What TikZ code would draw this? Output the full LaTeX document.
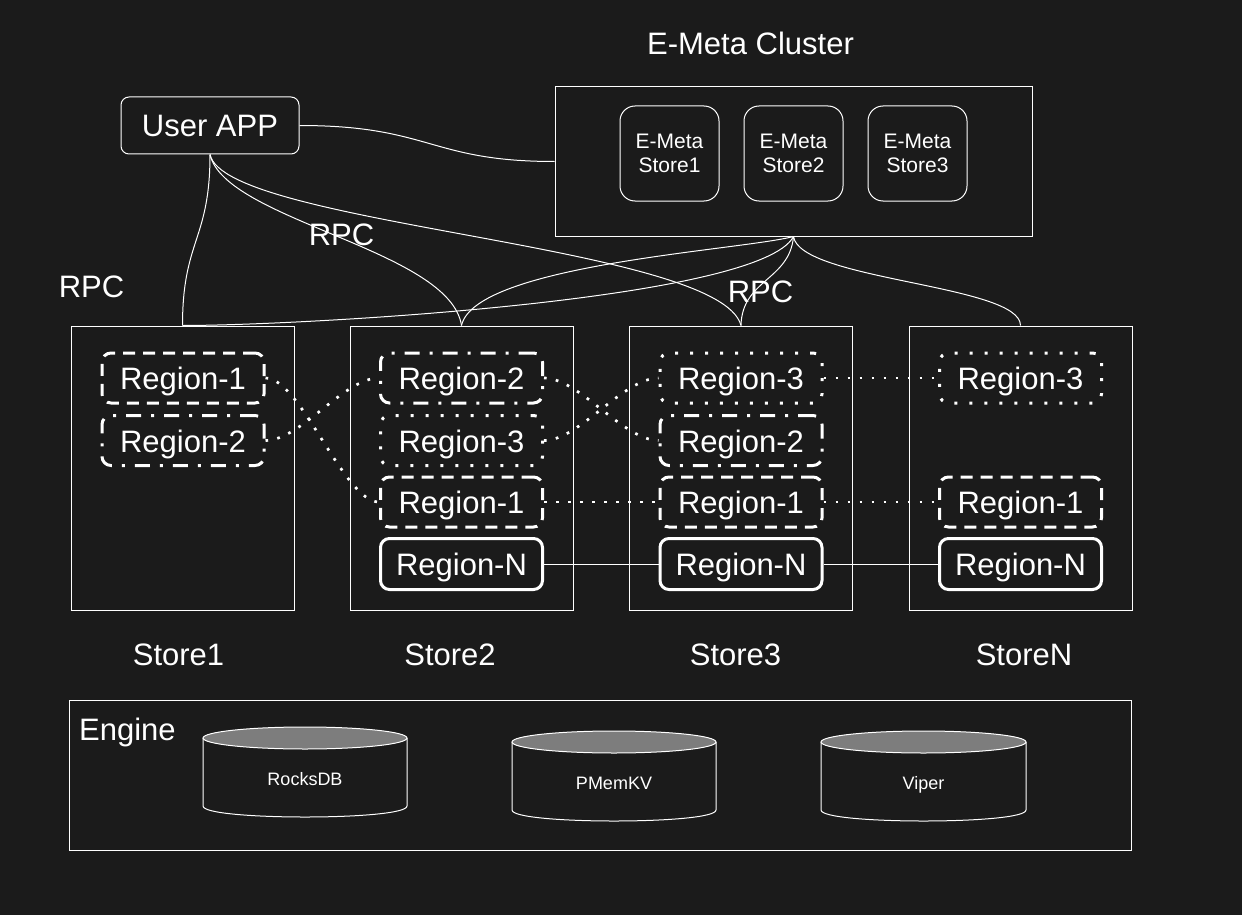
\documentclass[tikz,border=0pt]{standalone}
\usepackage{fontspec}
\setmainfont{Liberation Sans}
\definecolor{bg}{HTML}{1B1B1B}
\definecolor{cylgray}{HTML}{7D7D7D}
\begin{document}
\begin{tikzpicture}[x=1pt,y=-1pt,
  txt/.style={text=white, inner sep=0pt, text depth=0pt},
  big/.style={txt, font=\fontsize{31}{36}\selectfont},
  storebox/.style={draw=white, line width=1pt, minimum width=223pt, minimum height=284pt, inner sep=0pt},
  region/.style={draw=white, line width=3pt, rounded corners=9pt, minimum width=162pt, minimum height=50pt,
    text=white, inner ysep=0pt, inner xsep=0pt, text depth=0pt, font=\fontsize{31}{36}\selectfont},
  regA/.style={region, dash pattern=on 12pt off 8pt},
  regB/.style={region, dash pattern=on 15pt off 10pt on 3pt off 10pt},
  regC/.style={region, dash pattern=on 3pt off 12pt},
  regN/.style={region, minimum height=51pt},
  metastore/.style={draw=white, line width=1pt, rounded corners=15pt, minimum width=99pt, minimum height=95pt,
    text=white, inner sep=0pt, align=center, font=\fontsize{21}{24}\selectfont},
  conn/.style={draw=white, line width=1pt},
  dotconn/.style={draw=white, line width=2.7pt, dash pattern=on 2.7pt off 9.3pt},
  cyl/.style={draw=white, line width=1pt},
  cyllabel/.style={txt, font=\fontsize{18}{22}\selectfont}
]
\fill[bg] (0,0) rectangle (1242,915);
\useasboundingbox (0,0) rectangle (1242,915);

% title
\node[big] (title) at (750.5,43) {E-Meta Cluster};

% user app
\node[draw=white, line width=1pt, rounded corners=8pt, minimum width=178pt, minimum height=57pt,
  inner sep=0pt, text=white, text depth=0pt, font=\fontsize{31}{36}\selectfont] (ua) at (210,125.5) {User APP};

% E-Meta cluster
\node[draw=white, line width=1pt, minimum width=477pt, minimum height=149pt, inner sep=0pt] (em) at (793.5,161.5) {};
\node[metastore] (ms1) at (669.5,153.5) {E-Meta\\Store1};
\node[metastore] (ms2) at (793.5,153.5) {E-Meta\\Store2};
\node[metastore] (ms3) at (917.5,153.5) {E-Meta\\Store3};

% stores
\node[storebox] (s1) at (182.5,468) {};
\node[storebox] (s2) at (461.5,468) {};
\node[storebox] (s3) at (741,468) {};
\node[storebox] (sN) at (1020.5,468) {};

\node[big] (l1) at (178.5,654.5) {Store1};
\node[big] (l2) at (450,654.5) {Store2};
\node[big] (l3) at (735.5,654.5) {Store3};
\node[big] (lN) at (1024,654.5) {StoreN};

% regions
\node[regA] (r1a) at (183,378) {\raisebox{-1.5pt}{Region-1}};
\node[regB] (r1b) at (183,440.5) {\raisebox{-1.5pt}{Region-2}};

\node[regB] (r2a) at (461.5,378) {\raisebox{-1.5pt}{Region-2}};
\node[regC] (r2b) at (461.5,440.5) {\raisebox{-1.5pt}{Region-3}};
\node[regA] (r2c) at (461.5,502) {\raisebox{-1.5pt}{Region-1}};
\node[regN] (r2n) at (461.5,564) {\raisebox{-1.5pt}{Region-N}};

\node[regC] (r3a) at (741,378) {\raisebox{-1.5pt}{Region-3}};
\node[regB] (r3b) at (741,440.5) {\raisebox{-1.5pt}{Region-2}};
\node[regA] (r3c) at (741,502) {\raisebox{-1.5pt}{Region-1}};
\node[regN] (r3n) at (741,564) {\raisebox{-1.5pt}{Region-N}};

\node[regC] (rNa) at (1020.5,378) {\raisebox{-1.5pt}{Region-3}};
\node[regA] (rNc) at (1020.5,502) {\raisebox{-1.5pt}{Region-1}};
\node[regN] (rNn) at (1020.5,564) {\raisebox{-1.5pt}{Region-N}};

% RPC labels
\node[big] (rpc1) at (91.5,287) {RPC};
\node[big] (rpc2) at (341.5,235) {RPC};
\node[big] (rpc3) at (760.5,292) {RPC};

% connectors from User APP
\draw[conn] (ua.east) .. controls +(131,0) and +(-125,0) .. (em.west);
\draw[conn] (ua.south) .. controls +(0,86) and +(0,-86) .. (s1.north);
\draw[conn] (ua.south) .. controls +(15,66) and +(-11.5,-76) .. (s2.north);
\draw[conn] (ua.south) .. controls +(15,71) and +(-21,-81) .. (s3.north);

% connectors from E-Meta cluster
\draw[conn] (em.south) .. controls +(-33.5,64) and +(117.5,0) .. (s1.north);
\draw[conn] (em.south) .. controls +(-53.5,14) and +(13.5,-61) .. (s2.north);
\draw[conn] (em.south) .. controls +(-4,44) and +(1,-46) .. (s3.north);
\draw[conn] (em.south) .. controls +(6.5,44) and +(0,-41) .. (sN.north);

% region replication links
\draw[dotconn] (r1a.east) .. controls +(35,0) and +(-35,0) .. (r2c.west);
\draw[dotconn] (r1b.east) .. controls +(35,0) and +(-35,0) .. (r2a.west);
\draw[dotconn] (r2a.east) .. controls +(35,0) and +(-35,0) .. (r3b.west);
\draw[dotconn] (r2b.east) .. controls +(35,0) and +(-35,0) .. (r3a.west);
\draw[dotconn] (r2c.east) -- (r3c.west);
\draw[dotconn] (r3a.east) -- (rNa.west);
\draw[dotconn] (r3c.east) -- (rNc.west);
\draw[conn] (r2n.east) -- (r3n.west);
\draw[conn] (r3n.east) -- (rNn.west);

% engine
\node[draw=white, line width=1pt, minimum width=1062pt, minimum height=150pt, inner sep=0pt] (engine) at (600,775) {};
\node[big, anchor=west] (englabel) at (79,729) {Engine};

% cylinders
\draw[cyl] (203,738) -- (203,806) .. controls (203,820.67) and (407,820.67) .. (407,806) -- (407,738);
\draw[cyl, fill=cylgray] (305,738) ellipse [x radius=102, y radius=11];
\node[cyllabel] (rocks) at (305,779) {RocksDB};

\draw[cyl] (512,742) -- (512,810) .. controls (512,824.67) and (716,824.67) .. (716,810) -- (716,742);
\draw[cyl, fill=cylgray] (614,742) ellipse [x radius=102, y radius=11];
\node[cyllabel] (pmem) at (614,783) {PMemKV};

\draw[cyl] (821,742) -- (821,810) .. controls (821,824.67) and (1026,824.67) .. (1026,810) -- (1026,742);
\draw[cyl, fill=cylgray] (923.5,742) ellipse [x radius=102.5, y radius=11];
\node[cyllabel] (viper) at (923.5,783) {Viper};
\end{tikzpicture}
\end{document}
